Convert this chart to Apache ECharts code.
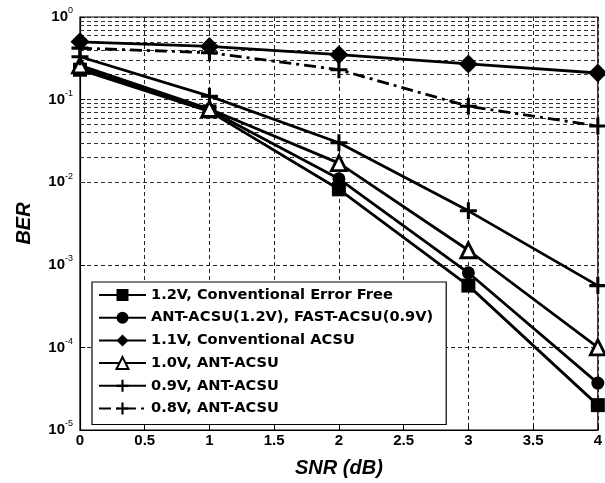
<!DOCTYPE html>
<html>
<head>
<meta charset="utf-8">
<script src="https://cdn.jsdelivr.net/npm/echarts@6/dist/echarts.min.js"></script>
<style>
  html, body { margin: 0; padding: 0; background: #fff; }
  #chart { width: 605px; height: 483px; }
</style>
</head>
<body>
<div id="chart"></div>
<script>
// SNR (dB) points
const snr = [0, 1, 2, 3, 4]

// BER values
const ber12Conv = [0.23, 0.072, 0.0082, 0.00056, 0.00002]
const berAnt12 = [0.24, 0.075, 0.011, 0.0008, 0.000037]
const ber11Conv = [0.5, 0.44, 0.35, 0.27, 0.21]
const ber10Ant = [0.26, 0.077, 0.017, 0.0015, 0.0001]
const ber09Ant = [0.33, 0.11, 0.03, 0.0045, 0.00056]
const ber08Ant = [0.42, 0.37, 0.23, 0.083, 0.048]

const seriesNames = [
  '1.2V, Conventional Error Free',
  'ANT-ACSU(1.2V), FAST-ACSU(0.9V)',
  '1.1V, Conventional ACSU',
  '1.0V, ANT-ACSU',
  '0.9V, ANT-ACSU',
  '0.8V, ANT-ACSU'
]

// minor log grid values (2..9 in each decade)
const minorGrid = []
for (let e = -5; e < 0; e++) {
  for (let m = 2; m <= 9; m++) minorGrid.push(m * Math.pow(10, e))
}

const plusPath = 'path://M4.1,0 H5.9 V4.1 H10 V5.9 H5.9 V10 H4.1 V5.9 H0 V4.1 H4.1 Z'
const fontFam = 'Liberation Sans, Arial, sans-serif'
const legendFont = 'DejaVu Sans, Liberation Sans, sans-serif'

function pairs(vals) {
  return snr.map((x, i) => [x, vals[i]])
}

function makeSeries(name, vals, symbol, size, extra) {
  return Object.assign({
    name: name,
    type: 'line',
    data: pairs(vals),
    symbol: symbol,
    symbolSize: size,
    showAllSymbol: true,
    animation: false,
    itemStyle: { color: '#000', borderColor: '#000', borderWidth: 0 },
    lineStyle: { color: '#000', width: 2.8 },
    z: 5
  }, extra || {})
}

const chart = echarts.init(document.getElementById('chart'))

chart.setOption({
  backgroundColor: '#fff',
  animation: false,
  grid: {
    left: 80,
    right: 7,
    top: 17,
    bottom: 46,
    show: true,
    borderColor: '#000',
    borderWidth: 1.2,
    backgroundColor: 'transparent'
  },
  legend: {
    orient: 'vertical',
    left: 92,
    top: 282,
    padding: [5, 13, 8, 6],
    itemGap: 6.7,
    itemWidth: 47,
    itemHeight: 15,
    backgroundColor: '#fff',
    borderColor: '#000',
    borderWidth: 1.2,
    textStyle: { color: '#000', fontSize: 14.6, lineHeight: 16, fontWeight: 'bold', fontFamily: legendFont },
    data: seriesNames
  },
  xAxis: {
    type: 'value',
    min: 0,
    max: 4,
    interval: 0.5,
    name: 'SNR (dB)',
    nameLocation: 'middle',
    nameGap: 28,
    nameTextStyle: { color: '#000', fontSize: 20, fontWeight: 'bold', fontStyle: 'italic', fontFamily: fontFam },
    axisLine: { show: true, lineStyle: { color: '#000', width: 1.2 } },
    axisTick: { show: true, inside: true, length: 5, lineStyle: { color: '#000' } },
    axisLabel: {
      color: '#000', fontSize: 15, fontWeight: 'bold', fontFamily: fontFam, margin: 3,
      formatter: v => String(v)
    },
    splitLine: { show: true, lineStyle: { color: '#222', width: 1, type: [4, 3] } }
  },
  yAxis: {
    type: 'log',
    logBase: 10,
    min: 1e-5,
    max: 1,
    name: 'BER',
    nameLocation: 'middle',
    nameGap: 46,
    nameTextStyle: { color: '#000', fontSize: 20, fontWeight: 'bold', fontStyle: 'italic', fontFamily: fontFam },
    axisLine: { show: true, lineStyle: { color: '#000', width: 1.2 } },
    axisTick: { show: true, inside: true, length: 5, lineStyle: { color: '#000' } },
    axisLabel: {
      margin: 7,
      formatter: v => '{b|10}{s|' + Math.round(Math.log10(v)) + '}',
      rich: {
        b: { color: '#000', fontSize: 15, fontWeight: 'bold', fontFamily: fontFam },
        s: { color: '#000', fontSize: 9, fontFamily: fontFam, padding: [0, 0, 12, 0] }
      }
    },
    splitLine: { show: true, lineStyle: { color: '#222', width: 1, type: [4, 3] } }
  },
  series: [
    {
      name: 'minor-grid',
      type: 'line',
      data: [],
      silent: true,
      z: 1,
      markLine: {
        silent: true,
        symbol: ['none', 'none'],
        label: { show: false },
        animation: false,
        lineStyle: { color: '#333', width: 1, type: [4, 3] },
        data: minorGrid.map(v => ({ yAxis: v }))
      }
    },
    makeSeries(seriesNames[0], ber12Conv, 'rect', 14),
    makeSeries(seriesNames[1], berAnt12, 'circle', 13),
    makeSeries(seriesNames[2], ber11Conv, 'diamond', 19),
    makeSeries(seriesNames[3], ber10Ant, 'triangle', 15, {
      itemStyle: { color: '#fff', borderColor: '#000', borderWidth: 2.8 }
    }),
    makeSeries(seriesNames[4], ber09Ant, plusPath, 17),
    makeSeries(seriesNames[5], ber08Ant, plusPath, 17, {
      lineStyle: { color: '#000', width: 2.8, type: [12, 5, 3, 5] }
    })
  ]
})
</script>
</body>
</html>
